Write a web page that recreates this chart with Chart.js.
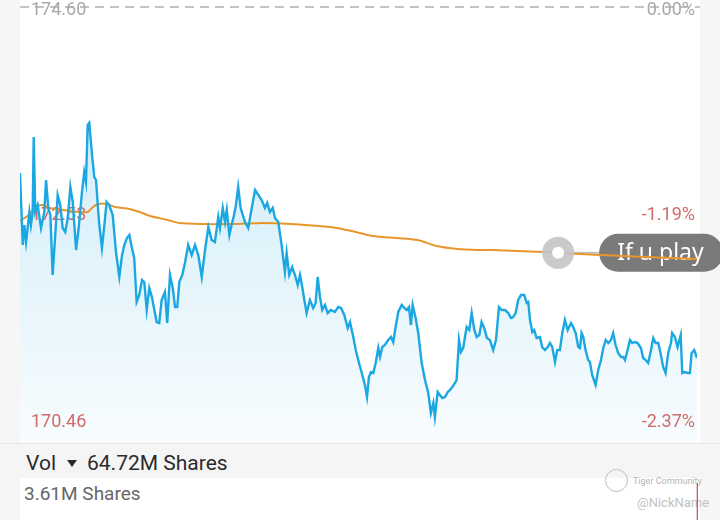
<!DOCTYPE html>
<html>
<head>
<meta charset="utf-8">
<script src="https://cdn.jsdelivr.net/npm/chart.js@4.4.1/dist/chart.umd.min.js"></script>
<style>
  html, body { margin: 0; padding: 0; }
  body { width: 720px; height: 520px; overflow: hidden; position: relative; background: #f6f6f6; font-family: Roboto, sans-serif; }
  .abs { position: absolute; }
  #pricePane { left: 20px; top: 0; width: 680px; height: 443px; background: #fff; }
  #volHead { left: 0; top: 443px; width: 720px; height: 35px; background: #f5f5f5; border-top: 1px solid #e8e8e8; box-sizing: border-box; }
  #volPane { left: 20px; top: 478px; width: 680px; height: 42px; background: #fff; }
  #priceWrap { left: 0; top: 0; width: 720px; height: 443px; }
  #volWrap { left: 0; top: 478px; width: 720px; height: 200px; }
  .vol { color: #2b2b2b; font-size: 21px; line-height: 21px; top: 453px; white-space: nowrap; }
  .volMax { color: #666; font-size: 19px; line-height: 19px; top: 484px; left: 24px; white-space: nowrap; }
  .tri { left: 67px; top: 460px; width: 0; height: 0; border-left: 5px solid transparent; border-right: 5px solid transparent; border-top: 7px solid #2b2b2b; }
  .logo { left: 605px; top: 469px; width: 21px; height: 21px; border: 1.5px solid #bdbdbd; border-radius: 50%; }
  .wm1 { left: 633px; top: 476px; font-size: 9px; color: #b5b5b5; white-space: nowrap; }
  .wm2 { left: 637px; top: 495px; font-size: 13px; color: #c2c2c2; white-space: nowrap; }
</style>
</head>
<body>
<div id="pricePane" class="abs"></div>
<div id="volHead" class="abs"></div>
<div id="volPane" class="abs"></div>
<div class="abs vol" style="left:26px">Vol</div>
<div class="abs tri"></div>
<div class="abs vol" style="left:87px">64.72M Shares</div>
<div class="abs volMax">3.61M Shares</div>
<div class="abs logo"></div>
<div class="abs wm1">Tiger Community</div>
<div class="abs wm2">@NickName</div>
<div id="priceWrap" class="abs"><canvas id="priceChart"></canvas></div>
<div id="volWrap" class="abs"><canvas id="volChart"></canvas></div>
<script>
// intraday price, minutes since the open
const minutes = [
  0, 1.6, 2.5, 3.5, 4.4, 5.4, 6.3, 7.3, 7.9, 8.8,
  10.2, 12.1, 14.0, 15.0, 16.3, 17.5, 18.8, 20.3, 21.7, 23.2,
  24.6, 26.1, 27.5, 29.0, 30.4, 32.3, 33.8, 35.7, 37.0, 38.0,
  39.0, 39.9, 41.5, 42.8, 43.8, 44.8, 45.7, 47.2, 48.6, 49.9,
  51.4, 53.4, 55.3, 57.2, 58.8, 60.1, 61.6, 63.0, 64.5, 65.8,
  67.2, 68.7, 70.3, 71.6, 73.0, 74.5, 76.0, 78.7, 80.2, 81.6,
  83.5, 84.8, 86.4, 88.0, 89.3, 90.6, 91.8, 93.5, 95.0, 96.9,
  98.9, 100.8, 102.7, 104.7, 106.6, 108.5, 110.4, 112.3, 114.2, 115.2,
  116.8, 118.1, 119.1, 120.6, 121.9, 123.3, 124.4, 125.7, 127.1, 129.6,
  131.5, 133.5, 135.4, 137.3, 139.2, 141.1, 142.4, 144.0, 145.6, 146.9,
  148.8, 150.7, 152.6, 153.6, 155.1, 156.8, 158.4, 160.0, 161.3, 162.6,
  163.8, 165.1, 167.0, 168.9, 170.3, 171.5, 172.8, 174.1, 175.7, 177.2,
  179.1, 181.4, 183.3, 184.9, 186.8, 188.8, 190.1, 192.0, 193.4, 195.3,
  197.2, 198.7, 199.9, 201.0, 202.2, 203.5, 204.9, 206.4, 207.4, 208.7,
  210.2, 212.1, 213.7, 215.0, 216.4, 217.9, 219.9, 221.4, 222.7, 224.1,
  225.2, 226.2, 227.9, 229.4, 231.4, 233.3, 235.2, 236.7, 238.1, 239.0,
  240.6, 241.9, 243.2, 244.8, 246.4, 247.7, 249.0, 250.6, 251.5, 252.9,
  254.0, 255.3, 257.3, 258.8, 260.2, 261.7, 263.1, 264.6, 265.9, 267.4,
  269.0, 270.7, 272.6, 274.2, 275.9, 277.5, 279.4, 281.3, 282.8, 284.1,
  285.5, 287.0, 288.6, 290.5, 291.9, 292.8, 293.8, 295.1, 296.2, 297.6,
  299.5, 300.8, 302.4, 304.0, 305.3, 306.6, 308.2, 309.5, 311.0, 312.4,
  313.9, 315.5, 317.4, 318.7, 320.1, 321.6, 322.6, 323.5, 324.5, 325.8,
  327.3, 328.3, 329.6, 331.6, 333.1, 334.7, 336.0, 337.4, 338.9, 340.4,
  341.7, 343.1, 344.6, 346.2, 347.5, 348.5, 350.0, 351.4, 352.7, 354.2,
  355.8, 357.7, 359.0, 360.4, 361.9, 363.5, 364.8, 366.2, 367.7, 369.2,
  370.5, 371.9, 373.4, 375.0, 375.7, 377.3, 378.8, 380.6, 381.5, 383.0,
  384.6, 385.9, 386.9, 388.4, 390.0
];
const prices = [
  172.95, 172.23, 172.43, 172.26, 172.40, 172.56, 172.43, 172.56, 173.31, 172.56,
  172.63, 172.40, 172.56, 172.88, 172.60, 172.53, 171.93, 172.33, 172.73, 172.63,
  172.40, 172.36, 172.50, 172.81, 172.66, 172.18, 172.40, 172.76, 172.96, 172.86,
  173.43, 173.45, 173.13, 172.91, 172.88, 172.63, 172.43, 172.20, 172.43, 172.66,
  172.63, 172.53, 172.16, 171.91, 172.13, 172.23, 172.30, 172.33, 172.20, 172.10,
  171.66, 171.73, 171.88, 171.86, 171.58, 171.80, 171.71, 171.46, 171.45, 171.68,
  171.76, 171.45, 171.93, 171.80, 171.61, 171.61, 171.86, 171.93, 172.05, 172.23,
  172.13, 172.23, 172.13, 171.91, 172.18, 172.41, 172.28, 172.26, 172.51, 172.40,
  172.60, 172.46, 172.58, 172.33, 172.43, 172.53, 172.63, 172.81, 172.60, 172.46,
  172.40, 172.60, 172.78, 172.73, 172.68, 172.60, 172.65, 172.56, 172.60, 172.50,
  172.46, 172.23, 171.96, 172.15, 171.93, 172.01, 171.93, 171.83, 171.93, 171.81,
  171.68, 171.55, 171.68, 171.60, 171.65, 171.91, 171.71, 171.58, 171.63, 171.55,
  171.58, 171.56, 171.61, 171.60, 171.53, 171.40, 171.46, 171.31, 171.18, 171.05,
  170.93, 170.83, 170.71, 170.91, 170.96, 170.95, 171.05, 171.20, 171.11, 171.21,
  171.23, 171.28, 171.31, 171.26, 171.41, 171.56, 171.63, 171.60, 171.58, 171.61,
  171.43, 171.63, 171.50, 171.35, 171.05, 170.88, 170.75, 170.55, 170.65, 170.51,
  170.76, 170.73, 170.70, 170.71, 170.76, 170.78, 170.81, 170.85, 170.88, 171.28,
  171.16, 171.20, 171.41, 171.38, 171.55, 171.38, 171.31, 171.33, 171.46, 171.40,
  171.30, 171.28, 171.18, 171.28, 171.61, 171.58, 171.58, 171.55, 171.50, 171.51,
  171.55, 171.68, 171.73, 171.73, 171.65, 171.66, 171.48, 171.36, 171.38, 171.30,
  171.31, 171.21, 171.18, 171.21, 171.25, 171.21, 171.06, 171.18, 171.18, 171.35,
  171.48, 171.38, 171.45, 171.41, 171.35, 171.21, 171.20, 171.35, 171.31, 171.18,
  171.08, 171.06, 170.93, 170.83, 170.98, 171.08, 171.20, 171.28, 171.25, 171.28,
  171.35, 171.23, 171.15, 171.11, 171.11, 171.08, 171.18, 171.28, 171.25, 171.26,
  171.25, 171.20, 171.10, 171.08, 171.05, 171.18, 171.30, 171.25, 171.25, 171.13,
  171.01, 170.95, 171.15, 171.25, 171.35, 171.31, 171.21, 171.33, 170.95, 170.96,
  170.95, 170.95, 171.15, 171.18, 171.10
];

// average price line
const avgMinutes = [0, 5, 9, 13, 17, 25, 34, 39, 42, 45, 50, 55, 63, 69, 75, 85, 92, 104, 123, 140,
  156, 172, 179, 191, 203, 217, 229, 240, 252, 264, 272, 301, 334, 361, 390];
const avgPrices = [172.47, 172.53, 172.61, 172.63, 172.60, 172.58, 172.56, 172.56, 172.61, 172.64,
  172.64, 172.61, 172.59, 172.56, 172.52, 172.48, 172.45, 172.44, 172.44, 172.45,
  172.44, 172.42, 172.41, 172.37, 172.32, 172.30, 172.28, 172.22, 172.19, 172.18,
  172.18, 172.16, 172.13, 172.11, 172.09];

// axis labels
const prevClose = 174.60;
const priceTicks = [174.60, 172.53, 170.46];
const pctTicks = ['0.00%', '-1.19%', '-2.37%'];

// volume (only the last bar is in view)
const volMinutes = [390];
const volValues = [3.61];
const volMax = 3.61;

// marker on the average line
const markerMinute = 310;
const markerText = 'If u play';

const BLUE = '#1ba8e2';
const ORANGE = '#e8962c';
const RED = '#d26a68';
const GRAY = '#a9a9a9';

function avgAt(m) {
  for (let i = 1; i < avgMinutes.length; i++) {
    if (m <= avgMinutes[i]) {
      const t = (m - avgMinutes[i - 1]) / (avgMinutes[i] - avgMinutes[i - 1]);
      return avgPrices[i - 1] + t * (avgPrices[i] - avgPrices[i - 1]);
    }
  }
  return avgPrices[avgPrices.length - 1];
}

const levelLabels = {
  id: 'levelLabels',
  beforeDatasetsDraw(chart) {
    const { ctx, chartArea, scales: { x, y } } = chart;
    ctx.save();
    const yc = y.getPixelForValue(prevClose);
    ctx.strokeStyle = '#b0b0b0';
    ctx.lineWidth = 1.5;
    ctx.setLineDash([9, 6]);
    ctx.beginPath();
    ctx.moveTo(chartArea.left, yc - 1);
    ctx.lineTo(chartArea.right + 3, yc - 1);
    ctx.stroke();
    ctx.setLineDash([]);

    ctx.font = '18px Roboto';
    ctx.textBaseline = 'middle';
    priceTicks.forEach((v, i) => {
      const py = y.getPixelForValue(v) + (i === 0 ? 2 : 0);
      ctx.fillStyle = i === 0 ? GRAY : RED;
      ctx.textAlign = 'left';
      ctx.fillText(v.toFixed(2), chartArea.left + 11, py);
      ctx.textAlign = 'right';
      ctx.fillText(pctTicks[i], chartArea.right - 2, py);
    });

    // label pill sits under the lines
    const px = x.getPixelForValue(markerMinute);
    const py = y.getPixelForValue(avgAt(markerMinute));
    const left = px + 41, h = 38;
    ctx.fillStyle = '#7a7a7a';
    ctx.beginPath();
    ctx.roundRect(left, py - h / 2, 124, h, h / 2);
    ctx.fill();
    ctx.fillStyle = '#fff';
    ctx.font = '23px "Noto Sans"';
    ctx.textAlign = 'left';
    ctx.fillText(markerText, left + 18, py + 1);
    ctx.strokeStyle = '#c2c2c2';
    ctx.lineWidth = 2;
    ctx.beginPath();
    ctx.moveTo(px + 15, py);
    ctx.lineTo(left, py);
    ctx.stroke();
    ctx.restore();
  },
  afterDatasetsDraw(chart) {
    const { ctx, scales: { x, y } } = chart;
    const px = x.getPixelForValue(markerMinute);
    const py = y.getPixelForValue(avgAt(markerMinute));
    ctx.save();
    ctx.fillStyle = 'rgba(196,196,196,0.9)';
    ctx.beginPath();
    ctx.arc(px, py, 16, 0, Math.PI * 2);
    ctx.fill();
    ctx.fillStyle = '#fff';
    ctx.beginPath();
    ctx.arc(px, py, 6, 0, Math.PI * 2);
    ctx.fill();
    ctx.restore();
  }
};

new Chart(document.getElementById('priceChart'), {
  type: 'line',
  data: {
    datasets: [
      {
        label: 'Price',
        data: minutes.map((m, i) => ({ x: m, y: prices[i] })),
        borderColor: BLUE,
        borderWidth: 2.4,
        pointRadius: 0,
        tension: 0,
        fill: 'start',
        backgroundColor: (c) => {
          const area = c.chart.chartArea;
          if (!area) return 'rgba(30,165,225,0.1)';
          const g = c.chart.ctx.createLinearGradient(0, 120, 0, area.bottom);
          g.addColorStop(0, 'rgba(30,165,225,0.2)');
          g.addColorStop(1, 'rgba(30,165,225,0.03)');
          return g;
        },
      },
      {
        label: 'Average',
        data: avgMinutes.map((m, i) => ({ x: m, y: avgPrices[i] })),
        borderColor: ORANGE,
        borderWidth: 2,
        pointRadius: 0,
        tension: 0.3,
        fill: false,
      },
    ],
  },
  options: {
    responsive: true,
    maintainAspectRatio: false,
    animation: false,
    layout: { padding: { left: 20, right: 23, top: 7, bottom: 0 } },
    scales: {
      x: { type: 'linear', min: 0, max: 390, display: false },
      y: { min: 170.25, max: 174.61, display: false },
    },
    plugins: {
      legend: { display: false },
      tooltip: { enabled: false },
      filler: { drawTime: 'beforeDatasetsDraw' },
    },
  },
  plugins: [levelLabels],
});

new Chart(document.getElementById('volChart'), {
  type: 'bar',
  data: {
    datasets: [{
      data: volMinutes.map((m, i) => ({ x: m, y: volValues[i] })),
      backgroundColor: '#e2535c',
      barThickness: 2,
    }],
  },
  options: {
    responsive: true,
    maintainAspectRatio: false,
    animation: false,
    layout: { padding: { left: 20, right: 22, top: 5, bottom: 0 } },
    scales: {
      x: { type: 'linear', min: 0, max: 390, offset: false, display: false },
      y: { min: 0, max: volMax, display: false },
    },
    plugins: { legend: { display: false }, tooltip: { enabled: false } },
  },
});
</script>
</body>
</html>
